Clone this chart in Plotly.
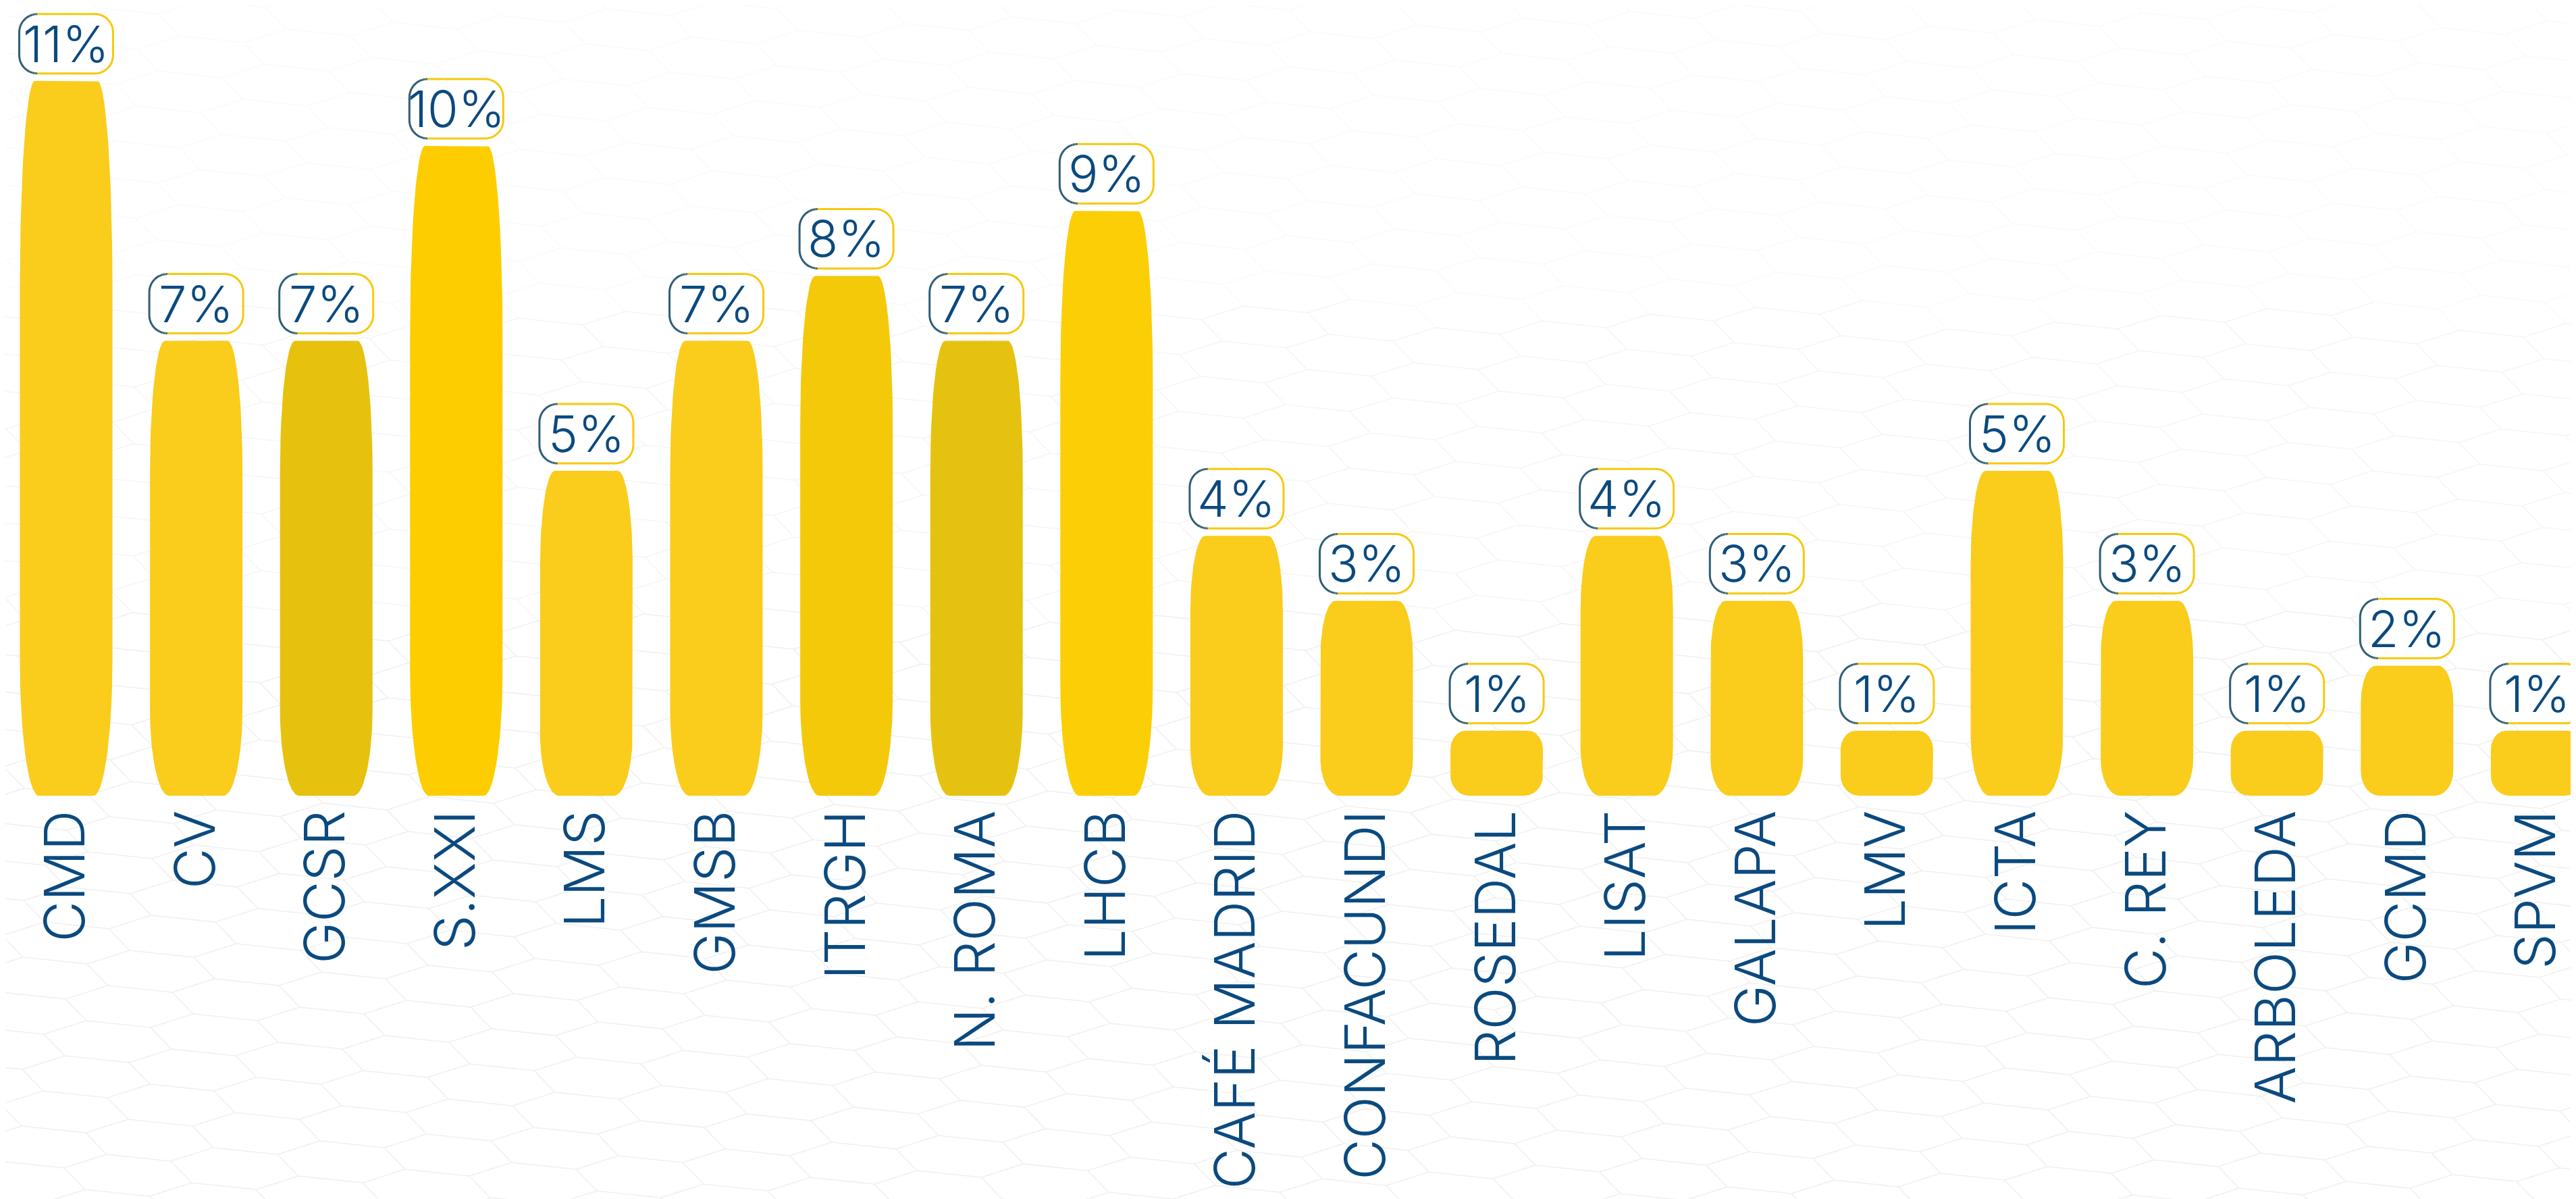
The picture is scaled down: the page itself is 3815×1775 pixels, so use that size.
import numpy as np
import plotly.graph_objects as go

# ---------------- data ----------------
categories = ["CMD", "CV", "GCSR", "S.XXI", "LMS", "GMSB", "ITRGH", "N. ROMA", "LHCB",
              "CAFÉ MADRID", "CONFACUNDI", "ROSEDAL", "LISAT", "GALAPA", "LMV", "ICTA",
              "C. REY", "ARBOLEDA", "GCMD", "SPVM"]
values = [11, 7, 7, 10, 5, 7, 8, 7, 9, 4, 3, 1, 4, 3, 1, 5, 3, 1, 2, 1]
value_labels = [f"{v}%" for v in values]
bar_colors = ["#FACC1C", "#FACC1C", "#E6C20E", "#FDCD00", "#FACC1C", "#FACC1C", "#F4C909",
              "#E6C210", "#FCCE05", "#FACC1C", "#FACC1C", "#FACC1C", "#FACC1C", "#FACC1C",
              "#FACC1C", "#FACC1C", "#FACC1C", "#FACC1C", "#FACC1C", "#FACC1C"]

# ---------------- layout geometry ----------------
W, H = 3815, 1775
BASE_PX = 1170          # pixel row of the bar baseline
PX_Y = 96.2             # pixels per 1 %
PX_X = 192.6            # pixels per category
X0_PX = 90              # pixel column of first category centre
TEXT_BLUE = "#0B4A7F"
FONT = "Inter"

x_range = [-X0_PX / PX_X, (W - X0_PX) / PX_X]
y_range = [0, BASE_PX / PX_Y]


def quarter(cx, cy, rx, ry, a0, a1, n=24):
    a = np.radians(np.linspace(a0, a1, n))
    return list(cx + rx * np.cos(a)), list(cy + ry * np.sin(a))


def bar_outline(i, v):
    hw = 68.5 / PX_X
    rxt, ryt = 22 / PX_X, max(0.29 * v, 28 / PX_Y)
    rxb, ryb = 28 / PX_X, max(0.19 * v, 30 / PX_Y)
    xs, ys = [], []
    for cx, cy, rx, ry, a0, a1 in [
        (i - hw + rxb, ryb, rxb, ryb, 270, 180),
        (i - hw + rxt, v - ryt, rxt, ryt, 180, 90),
        (i + hw - rxt, v - ryt, rxt, ryt, 90, 0),
        (i + hw - rxb, ryb, rxb, ryb, 0, -90),
    ]:
        qx, qy = quarter(cx, cy, rx, ry, a0, a1)
        xs += qx
        ys += qy
    xs.append(xs[0])
    ys.append(ys[0])
    return xs, ys


def box_outline(i, v):
    hw = 69.5 / PX_X
    y0 = v + 11 / PX_Y
    y1 = y0 + 88 / PX_Y
    rx, ry = 27 / PX_X, 27 / PX_Y
    xs, ys = [], []
    for cx, cy, a0, a1 in [
        (i - hw + rx, y1 - ry, 90, 180),
        (i - hw + rx, y0 + ry, 180, 270),
        (i + hw - rx, y0 + ry, 270, 360),
        (i + hw - rx, y1 - ry, 0, 90),
    ]:
        qx, qy = quarter(cx, cy, rx, ry, a0, a1, n=12)
        xs += qx
        ys += qy
    xs.append(xs[0])
    ys.append(ys[0])
    return xs, ys, y0, y1, hw


def mix(c1, c2, t):
    a = [int(c1[k:k + 2], 16) for k in (1, 3, 5)]
    b = [int(c2[k:k + 2], 16) for k in (1, 3, 5)]
    return "#%02X%02X%02X" % tuple(round(a[j] + (b[j] - a[j]) * t) for j in range(3))


DARK = "#2F5E77"
MID = "#A9A428"
GOLD = "#F6C90E"


def border_color(t):
    if t < 0.12:
        return DARK
    if t < 0.32:
        return mix(DARK, MID, (t - 0.12) / 0.20)
    if t < 0.5:
        return mix(MID, GOLD, (t - 0.32) / 0.18)
    return GOLD


shapes = []

# ---------------- faint hexagon background (decoration) ----------------
e1 = np.array([95.0, 10.0])
e2 = np.array([31.0, 32.0])
e3 = np.array([63.0, -20.0])
L1 = e1 + e2
L2 = e3 - e2
anchor = np.array([3025.0, 1635.0])
bands = {"#FAFAFA": [], "#F5F5F5": [], "#F0F0F0": []}


def to_paper(p):
    return p[0] / W, (BASE_PX - p[1]) / BASE_PX


for m in range(-70, 71):
    for n in range(-70, 71):
        P = anchor + m * L1 + n * L2
        if not (-250 < P[0] < W + 250 and -250 < P[1] < H + 250):
            continue
        band = "#FAFAFA" if P[1] < 450 else ("#F5F5F5" if P[1] < 900 else "#F0F0F0")
        for d in (e2, e3, -e1):
            a = to_paper(P)
            b = to_paper(P + d)
            bands[band].append(f"M{a[0]:.5f},{a[1]:.5f}L{b[0]:.5f},{b[1]:.5f}")
for col, segs in bands.items():
    if segs:
        shapes.append(dict(type="path", path="".join(segs), xref="paper", yref="paper",
                           line=dict(color=col, width=1.6), layer="below"))

fig = go.Figure()
annotations = []

for i, (v, col, lab) in enumerate(zip(values, bar_colors, value_labels)):
    bx, by = bar_outline(i, v)
    fig.add_trace(go.Scatter(x=bx, y=by, mode="lines", fill="toself", fillcolor=col,
                             line=dict(width=0, color=col), hoverinfo="skip", showlegend=False))
    ox, oy, y0, y1, hw = box_outline(i, v)
    fig.add_trace(go.Scatter(x=ox, y=oy, mode="lines", fill="toself", fillcolor="white",
                             line=dict(width=0, color="white"), hoverinfo="skip", showlegend=False))
    seg_pts = [(ox[0], oy[0])]
    cur = None
    for k in range(1, len(ox)):
        xm = 0.5 * (ox[k] + ox[k - 1])
        t = (xm - (i - hw)) / (2 * hw)
        c = border_color(t)
        if cur is None:
            cur = c
        if c != cur:
            path = "M " + " L ".join(f"{px:.4f},{py:.4f}" for px, py in seg_pts)
            shapes.append(dict(type="path", path=path, xref="x", yref="y",
                               line=dict(color=cur, width=3), layer="above"))
            seg_pts = [seg_pts[-1]]
            cur = c
        seg_pts.append((ox[k], oy[k]))
    path = "M " + " L ".join(f"{px:.4f},{py:.4f}" for px, py in seg_pts)
    shapes.append(dict(type="path", path=path, xref="x", yref="y",
                       line=dict(color=cur, width=3), layer="above"))
    annotations.append(dict(x=i, y=0.5 * (y0 + y1), xref="x", yref="y", text=lab,
                            showarrow=False,
                            font=dict(family=FONT, size=74, color=TEXT_BLUE, weight=300),
                            xanchor="center", yanchor="middle"))

fig.update_layout(
    width=W, height=H,
    margin=dict(l=0, r=0, t=0, b=H - BASE_PX, pad=0),
    paper_bgcolor="white", plot_bgcolor="rgba(0,0,0,0)",
    shapes=shapes, annotations=annotations,
    xaxis=dict(range=x_range, tickmode="array", tickvals=list(range(len(categories))),
               ticktext=categories, tickangle=-90, showgrid=False, zeroline=False,
               showline=False, ticks="", ticklabelstandoff=4,
               tickfont=dict(family=FONT, size=83, color=TEXT_BLUE, weight=300),
               fixedrange=True),
    yaxis=dict(range=y_range, visible=False, showgrid=False, zeroline=False, fixedrange=True),
    showlegend=False,
)

fig.write_html("out.html")
